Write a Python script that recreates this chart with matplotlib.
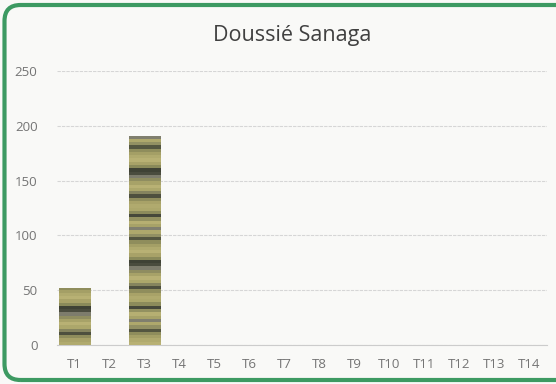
import matplotlib
matplotlib.use("Agg")
import numpy as np
import matplotlib.pyplot as plt
from matplotlib.colors import to_rgb
from matplotlib.patches import FancyBboxPatch

# volumes par tronçon
categories = ["T1", "T2", "T3", "T4", "T5", "T6", "T7",
              "T8", "T9", "T10", "T11", "T12", "T13", "T14"]
values = [52, 0, 191, 0, 0, 0, 0, 0, 0, 0, 0, 0, 0, 0]
yticks = [0, 50, 100, 150, 200, 250]

# veinage du bois (bandes horizontales)
grain = ["#b0aa6e", "#a8a268", "#8f8d5c", "#4e503e", "#85845e", "#aca76b",
         "#b8b174", "#a7a268", "#8f8d60", "#7d7c6c", "#4a4c3e", "#3f4235",
         "#8a8a5a", "#a8a268", "#b8b174", "#b0aa6e", "#a49f66", "#8f8d5c",
         "#545640", "#929063", "#aea86c", "#807f6e", "#a7a268", "#b6af72",
         "#939160", "#46483a", "#8c8b5b", "#aca76b"]

plt.rcParams['font.family'] = ['Open Sans', 'DejaVu Sans']

fig = plt.figure(figsize=(5.56, 3.84), dpi=100, facecolor="#f9f9f7")
ax = fig.add_axes([57/556, 1 - 345/384, 490/556, 274/384])
ax.set_facecolor("none")

bars = ax.bar(categories, values, width=0.91, color="#a39d62",
              linewidth=0, zorder=3)
tex = np.array([to_rgb(c) for c in grain * 3])[::-1].reshape(-1, 1, 3)
for i, b in enumerate(bars):
    if b.get_height() <= 0:
        continue
    img = ax.imshow(np.roll(tex, 7 * i, axis=0), aspect="auto",
                    interpolation="nearest", zorder=4,
                    extent=(b.get_x(), b.get_x() + b.get_width(), 0, 250))
    img.set_clip_path(b)

ax.set_ylim(0, 250)
ax.set_xlim(-0.5, len(categories) - 0.5)
ax.set_yticks(yticks)
ax.grid(axis="y", color="#d6d6d6", linewidth=0.8, linestyle=(0, (3, 1)))
ax.set_axisbelow(True)
for side in ["top", "right", "left"]:
    ax.spines[side].set_visible(False)
ax.spines["bottom"].set_color("#cccccc")
ax.tick_params(axis="both", length=0, colors="#747474", labelsize=9.5)
ax.tick_params(axis="y", pad=14)
ax.tick_params(axis="x", pad=9)

fig.text(292/556, 1 - 36/384, "Doussié Sanaga", ha="center", va="center",
         fontsize=15.5, color="#404040")

# cadre vert arrondi (coupé à droite)
frame = FancyBboxPatch((0.045, 0.04), 6.0, 3.75,
                       boxstyle="round,pad=0,rounding_size=0.16",
                       transform=fig.dpi_scale_trans, fill=False,
                       edgecolor="#3d9a62", linewidth=3, zorder=10)
fig.patches.append(frame)

fig.savefig("out.png", dpi=100, facecolor=fig.get_facecolor())
